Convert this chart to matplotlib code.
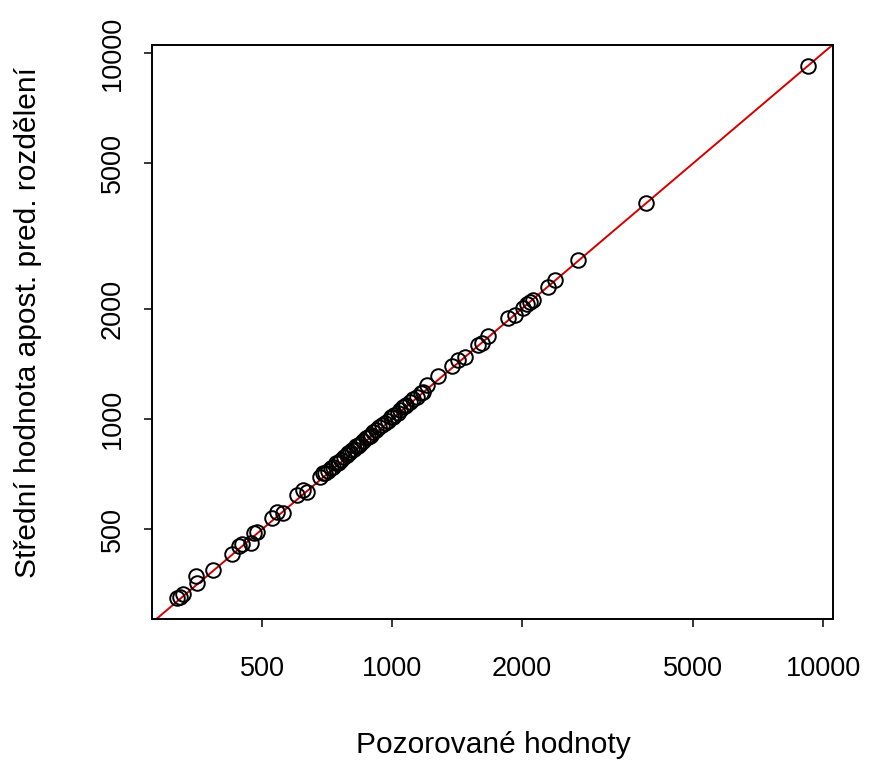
import matplotlib
matplotlib.use("Agg")
import matplotlib.pyplot as plt
import numpy as np
from matplotlib.ticker import FixedLocator, NullLocator, FixedFormatter

plt.rcParams["font.family"] = ["Liberation Sans", "DejaVu Sans"]

# observed values (x) and posterior predictive means (y)
observed = [
    317, 322, 327, 351, 353, 384, 425, 442, 449, 471, 478, 486, 527, 541, 559,
    602, 622, 635, 681, 692,
    700, 712, 722, 728, 740, 748, 755, 760, 772, 785, 792, 798, 806, 818, 825,
    832, 845, 858, 870, 880, 888, 895, 905, 920, 935, 950, 965, 980, 995, 1005,
    1010, 1030, 1045, 1060, 1070, 1080, 1100, 1120, 1140, 1165, 1180,
    1206, 1279, 1378, 1423, 1477, 1583, 1618, 1670,
    1858, 1929, 2013, 2057, 2090, 2124, 2301, 2389, 2701, 3885, 9231,
]
predicted = [
    324, 326, 333, 372, 356, 387, 428, 450, 456, 458, 488, 491, 536, 557, 554,
    620, 640, 632, 694, 712,
    712, 722, 736, 738, 756, 760, 762, 772, 786, 795, 808, 810, 822, 830, 846,
    842, 856, 872, 890, 895, 898, 906, 920, 935, 948, 960, 975, 990, 1010, 1015,
    1025, 1040, 1060, 1075, 1082, 1090, 1115, 1135, 1150, 1180, 1185,
    1238, 1311, 1396, 1449, 1477, 1593, 1613, 1686,
    1888, 1924, 2011, 2062, 2087, 2114, 2295, 2398, 2720, 3892, 9215,
]
tick_values = [500, 1000, 2000, 5000, 10000]
tick_labels = ["500", "1000", "2000", "5000", "10000"]

fig = plt.figure(figsize=(8.69, 7.65), dpi=100)
ax = fig.add_axes([152 / 869, 1 - 619 / 765, 681 / 869, 574 / 765])

ax.set_xscale("log")
ax.set_yscale("log")
ax.set_xlim(277.5, 10548)
ax.set_ylim(284.1, 10517)

ax.plot([100, 20000], [100, 20000], color="#d40000", linewidth=1.4, zorder=1)
ax.plot(observed, predicted, linestyle="none", marker="o", markersize=10.5,
        markerfacecolor="none", markeredgecolor="black", markeredgewidth=1.4, zorder=2)

for axis in (ax.xaxis, ax.yaxis):
    axis.set_major_locator(FixedLocator(tick_values))
    axis.set_major_formatter(FixedFormatter(tick_labels))
    axis.set_minor_locator(NullLocator())

ax.tick_params(axis="both", direction="out", length=6, width=1.1, labelsize=19.5)
ax.tick_params(axis="x", pad=21)
ax.tick_params(axis="y", pad=13)
for lab in ax.get_yticklabels():
    lab.set_rotation(90)
    lab.set_va("center")

for spine in ax.spines.values():
    spine.set_linewidth(1.4)

fig.text(493 / 869, 1 - 745 / 765, "Pozorované hodnoty", ha="center", va="center", fontsize=21.5)
fig.text(28 / 869, 1 - 322 / 765, "Střední hodnota apost. pred. rozdělení",
         ha="center", va="center", rotation=90, fontsize=21.5)

fig.savefig("out.png", dpi=100, facecolor="white")
